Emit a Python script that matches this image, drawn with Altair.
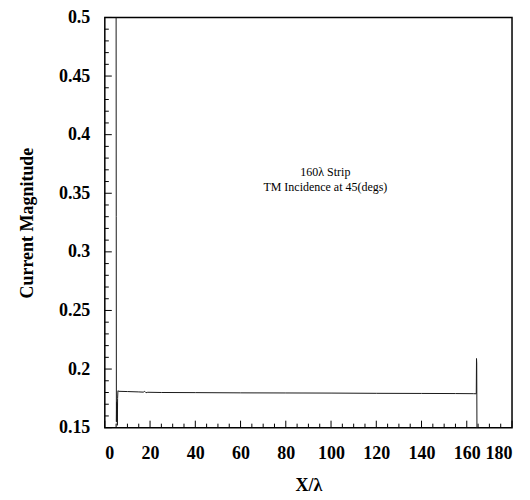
import altair as alt
import pandas as pd

# Current magnitude along the strip (x in wavelengths)
x_pos = [4.9, 5.0, 5.05, 5.12, 5.2, 5.27, 5.33, 5.4, 5.47, 5.55, 5.65, 5.8, 6.2,
         10.0, 15.0, 17.0, 17.6, 18.2, 19.0, 25.0, 40.0, 60.0, 80.0, 100.0,
         120.0, 140.0, 155.0, 163.0, 164.2, 164.3, 164.4, 164.5]
current = [0.52, 0.5, 0.33, 0.155, 0.172, 0.162, 0.171, 0.165, 0.17, 0.152, 0.175, 0.1815, 0.181,
           0.1808, 0.1805, 0.1803, 0.181, 0.1798, 0.1802, 0.1800, 0.1799, 0.1797, 0.1796, 0.1795,
           0.1793, 0.1792, 0.1791, 0.1790, 0.1789, 0.209, 0.205, 0.148]

x_major = [0, 20, 40, 60, 80, 100, 120, 140, 160, 180]
x_minor = [5, 10, 15, 25, 30, 35, 45, 50, 55, 65, 70, 75, 85, 90, 95, 105, 110, 115,
           125, 130, 135, 145, 150, 155, 165, 170, 175]
y_major = [0.15, 0.2, 0.25, 0.3, 0.35, 0.4, 0.45, 0.5]
y_minor = [0.16, 0.17, 0.18, 0.19, 0.21, 0.22, 0.23, 0.24, 0.26, 0.27, 0.28, 0.29,
           0.31, 0.32, 0.33, 0.34, 0.36, 0.37, 0.38, 0.39, 0.41, 0.42, 0.43, 0.44,
           0.46, 0.47, 0.48, 0.49]

note_x = [97.5]
note_y = [0.368]
note_text = [["160λ Strip", "TM Incidence at 45(degs)"]]

W, H = 408, 411
FONT = "Liberation Serif"

df = pd.DataFrame({"x": x_pos, "y": current})

xs = alt.Scale(domain=[0, 180], nice=False, zero=False)
ys = alt.Scale(domain=[0.15, 0.5], nice=False, zero=False)

line = alt.Chart(df).mark_line(color="#1a1a1a", strokeWidth=1, clip=True).encode(
    x=alt.X("x:Q", scale=xs,
            axis=alt.Axis(values=x_major, title="X/λ", ticks=False, domain=False, grid=False,
                          labelPadding=17, titlePadding=14, format="d")),
    y=alt.Y("y:Q", scale=ys,
            axis=alt.Axis(values=y_major, title="Current Magnitude", ticks=False, domain=False,
                          grid=False, labelPadding=15, titlePadding=22, format="~g")),
)

def xticks(vals, length):
    return alt.Chart(pd.DataFrame({"v": vals})).mark_rule(color="black", strokeWidth=1).encode(
        x=alt.X("v:Q", scale=xs), y=alt.value(H), y2=alt.value(H - length))

def yticks(vals, length):
    return alt.Chart(pd.DataFrame({"v": vals})).mark_rule(color="black", strokeWidth=1).encode(
        y=alt.Y("v:Q", scale=ys), x=alt.value(0), x2=alt.value(length))

note = alt.Chart(pd.DataFrame({"x": note_x, "y": note_y, "t": note_text})).mark_text(
    font=FONT, fontSize=12, color="black", align="center", baseline="middle", lineHeight=15
).encode(x=alt.X("x:Q", scale=xs), y=alt.Y("y:Q", scale=ys), text="t")

chart = alt.layer(
    xticks(x_major, 7), xticks(x_minor, 4), yticks(y_major, 7), yticks(y_minor, 4), line, note
).properties(
    width=W, height=H,
    autosize=alt.AutoSizeParams(type="none"),
    padding={"left": 97, "top": 9, "right": 10, "bottom": 70},
).configure_view(
    stroke="black", strokeWidth=1.5
).configure_axis(
    labelFont=FONT, titleFont=FONT, labelFontSize=18, titleFontSize=18,
    labelFontWeight="bold", titleFontWeight="bold", labelColor="black", titleColor="black"
)

chart.save("out.html", embed_options={"renderer": "svg", "actions": False})
